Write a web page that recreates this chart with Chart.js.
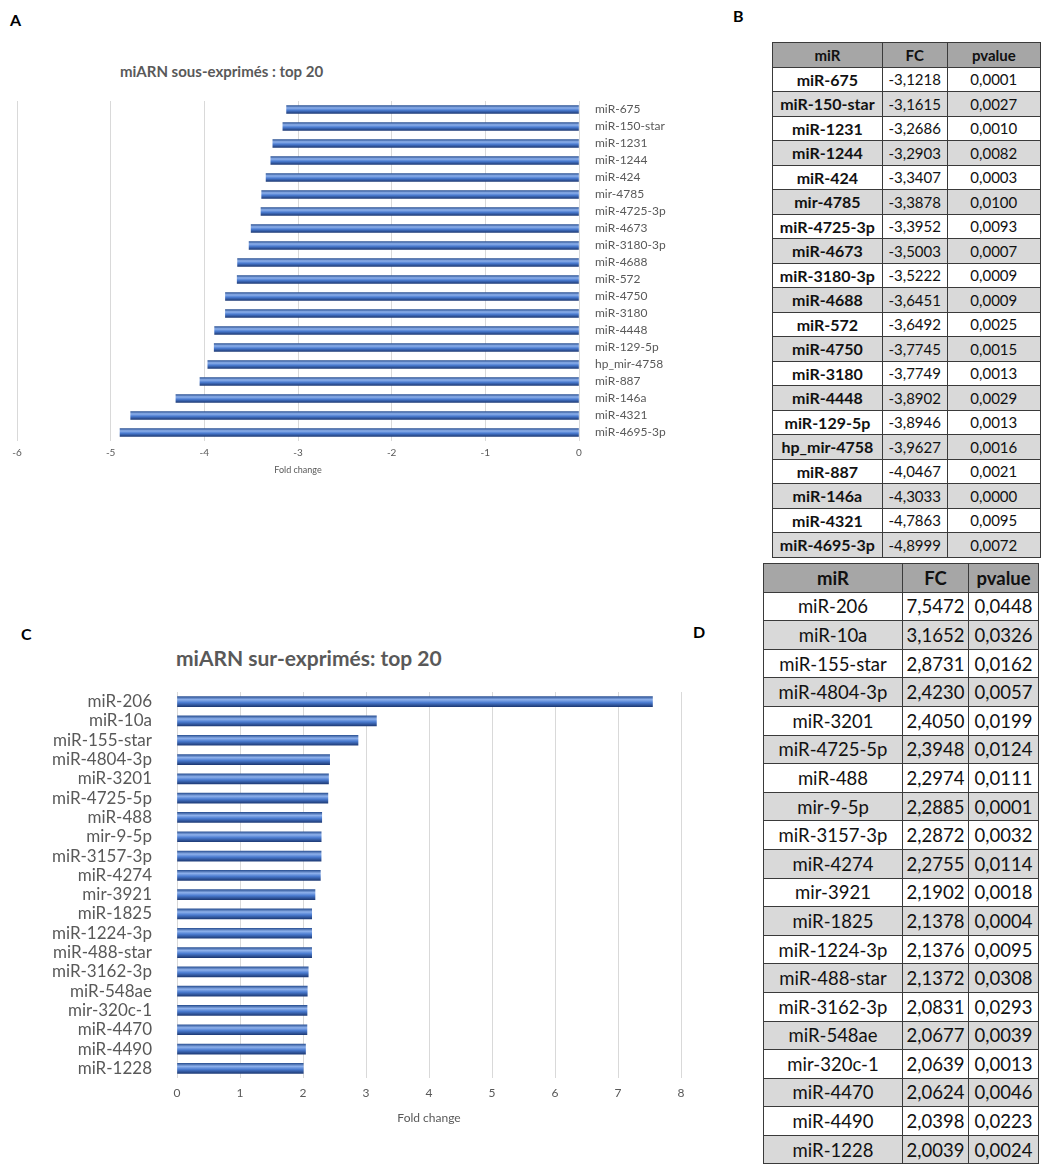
<!DOCTYPE html>
<html>
<head>
<meta charset="utf-8">
<script src="https://cdn.jsdelivr.net/npm/chart.js@4.4.1/dist/chart.umd.min.js"></script>
<style>
body { margin: 0; background: #fff; font-family: Lato, "Open Sans", sans-serif; }
#page { position: relative; width: 1041px; height: 1164px; overflow: hidden; }
.panel { position: absolute; font-weight: bold; font-size: 16px; color: #000; }
.title { position: absolute; font-weight: bold; color: #595959; white-space: nowrap; }
canvas { position: absolute; }
table { position: absolute; border-collapse: collapse; table-layout: fixed; color: #111; }
td, th { border: 1px solid #3a3a3a; text-align: center; padding: 0; white-space: nowrap; overflow: hidden; }
th { background: #a6a6a6; }
tr.alt td { background: #d9d9d9; }
#tabB { left: 772px; top: 42px; font-size: 15px; }
#tabB tr { height: 24.5px; }
#tabB td.name { font-weight: bold; font-size: 16px; }
#tabD { left: 763px; top: 563px; font-size: 18.5px; }
#tabD tr { height: 28.6px; }
</style>
</head>
<body>
<div id="page">
  <div class="panel" style="left:10px;top:10px;">A</div>
  <div class="panel" style="left:733px;top:6px;">B</div>
  <div class="panel" style="left:21px;top:624px;">C</div>
  <div class="panel" style="left:693px;top:622px;">D</div>

  <div class="title" style="left:120px;top:62px;font-size:15px;">miARN sous-exprimés : top 20</div>
  <div class="title" style="left:176px;top:645px;font-size:21px;">miARN sur-exprimés: top 20</div>

  <canvas id="chartA" width="700" height="389" style="left:0;top:90px;"></canvas>
  <canvas id="chartC" width="700" height="449" style="left:0;top:680px;"></canvas>

  <table id="tabB">
    <colgroup><col style="width:110px"><col style="width:65px"><col style="width:94px"></colgroup>
    <thead><tr><th>miR</th><th>FC</th><th>pvalue</th></tr></thead>
    <tbody></tbody>
  </table>
  <table id="tabD">
    <colgroup><col style="width:139px"><col style="width:66px"><col style="width:70px"></colgroup>
    <thead><tr><th>miR</th><th>FC</th><th>pvalue</th></tr></thead>
    <tbody></tbody>
  </table>
</div>

<script>
// sous-exprimés (A, B)
const underNames = ['miR-675', 'miR-150-star', 'miR-1231', 'miR-1244', 'miR-424', 'mir-4785',
    'miR-4725-3p', 'miR-4673', 'miR-3180-3p', 'miR-4688', 'miR-572', 'miR-4750', 'miR-3180',
    'miR-4448', 'miR-129-5p', 'hp_mir-4758', 'miR-887', 'miR-146a', 'miR-4321', 'miR-4695-3p'];
const underFC = [-3.1218, -3.1615, -3.2686, -3.2903, -3.3407, -3.3878, -3.3952, -3.5003, -3.5222,
    -3.6451, -3.6492, -3.7745, -3.7749, -3.8902, -3.8946, -3.9627, -4.0467, -4.3033, -4.7863, -4.8999];
const underP = [0.0001, 0.0027, 0.0010, 0.0082, 0.0003, 0.0100, 0.0093, 0.0007, 0.0009,
    0.0009, 0.0025, 0.0015, 0.0013, 0.0029, 0.0013, 0.0016, 0.0021, 0.0000, 0.0095, 0.0072];

// sur-exprimés (C, D)
const overNames = ['miR-206', 'miR-10a', 'miR-155-star', 'miR-4804-3p', 'miR-3201', 'miR-4725-5p',
    'miR-488', 'mir-9-5p', 'miR-3157-3p', 'miR-4274', 'mir-3921', 'miR-1825', 'miR-1224-3p',
    'miR-488-star', 'miR-3162-3p', 'miR-548ae', 'mir-320c-1', 'miR-4470', 'miR-4490', 'miR-1228'];
const overFC = [7.5472, 3.1652, 2.8731, 2.4230, 2.4050, 2.3948, 2.2974, 2.2885, 2.2872, 2.2755,
    2.1902, 2.1378, 2.1376, 2.1372, 2.0831, 2.0677, 2.0639, 2.0624, 2.0398, 2.0039];
const overP = [0.0448, 0.0326, 0.0162, 0.0057, 0.0199, 0.0124, 0.0111, 0.0001, 0.0032, 0.0114,
    0.0018, 0.0004, 0.0095, 0.0308, 0.0293, 0.0039, 0.0013, 0.0046, 0.0223, 0.0024];

const fr = v => v.toFixed(4).replace('.', ',');

function fillTable(id, names, fc, p) {
    const body = document.querySelector('#' + id + ' tbody');
    for (let i = 0; i < names.length; i++) {
        const tr = document.createElement('tr');
        if (i % 2 === 1) tr.className = 'alt';
        tr.innerHTML = '<td class="name">' + names[i] + '</td><td>' + fr(fc[i]) + '</td><td>' + fr(p[i]) + '</td>';
        body.appendChild(tr);
    }
}
fillTable('tabB', underNames, underFC, underP);
fillTable('tabD', overNames, overFC, overP);

// shaded "cylinder" look for the bars, built once the y scale is laid out
const barShine = {
    id: 'barShine',
    afterLayout(chart, args, opts) {
        const y = chart.scales.y;
        const area = chart.chartArea;
        const t = opts.thickness;
        const h = area.bottom - area.top;
        const off = px => Math.min(1, Math.max(0, (px - area.top) / h));
        const g = chart.ctx.createLinearGradient(0, area.top, 0, area.bottom);
        for (let i = 0; i < chart.data.labels.length; i++) {
            const top = y.getPixelForValue(i) - t / 2;
            g.addColorStop(off(top), '#2f5597');
            g.addColorStop(off(top + t * 0.3), '#8eb1ec');
            g.addColorStop(off(top + t * 0.6), '#4a7bd0');
            g.addColorStop(off(top + t), '#1f3c78');
        }
        chart.$shine = g;
    }
};

const grey = '#595959';
const font = 'Lato, "Open Sans", sans-serif';

// the category axis would otherwise push the plot down by half a label + padding
function fixCatAxis(width) {
    return s => {
        s.width = width;
        s.paddingTop = 0;
        s.paddingBottom = 0;
    };
}

new Chart(document.getElementById('chartA'), {
    type: 'bar',
    data: {
        labels: underNames,
        datasets: [{
            data: underFC,
            barThickness: 8,
            backgroundColor: c => c.chart.$shine || '#4472c4'
        }]
    },
    plugins: [barShine],
    options: {
        indexAxis: 'y',
        responsive: false,
        animation: false,
        devicePixelRatio: 1,
        layout: { padding: { left: 17, top: 11, right: 0, bottom: 0 } },
        plugins: {
            legend: { display: false },
            tooltip: { enabled: false },
            barShine: { thickness: 8 }
        },
        scales: {
            x: {
                min: -6,
                max: 0,
                ticks: { stepSize: 1, padding: 6, color: grey, font: { family: font, size: 10 } },
                grid: { color: '#d9d9d9', drawTicks: false },
                border: { display: false },
                title: { display: true, text: 'Fold change', color: grey, font: { family: font, size: 9 }, padding: { top: 4, bottom: 4 } },
                afterFit: s => { s.height = 38; }
            },
            y: {
                position: 'right',
                ticks: { autoSkip: false, padding: 8, color: grey, font: { family: font, size: 12 } },
                grid: { display: false },
                border: { display: false },
                afterFit: fixCatAxis(121)
            }
        }
    }
});

new Chart(document.getElementById('chartC'), {
    type: 'bar',
    data: {
        labels: overNames,
        datasets: [{
            data: overFC,
            barThickness: 10,
            backgroundColor: c => c.chart.$shine || '#4472c4'
        }]
    },
    plugins: [barShine],
    options: {
        indexAxis: 'y',
        responsive: false,
        animation: false,
        devicePixelRatio: 1,
        layout: { padding: { left: 0, top: 12, right: 19, bottom: 0 } },
        plugins: {
            legend: { display: false },
            tooltip: { enabled: false },
            barShine: { thickness: 10 }
        },
        scales: {
            x: {
                min: 0,
                max: 8,
                ticks: { stepSize: 1, padding: 8, color: grey, font: { family: font, size: 12 } },
                grid: { color: '#d9d9d9', drawTicks: false },
                border: { display: false },
                title: { display: true, text: 'Fold change', color: grey, font: { family: font, size: 12 }, padding: { top: 4, bottom: 4 } },
                afterFit: s => { s.height = 51; }
            },
            y: {
                ticks: { autoSkip: false, padding: 17, color: grey, font: { family: font, size: 17 } },
                grid: { display: false },
                border: { display: false },
                afterFit: fixCatAxis(177)
            }
        }
    }
});
</script>
</body>
</html>
